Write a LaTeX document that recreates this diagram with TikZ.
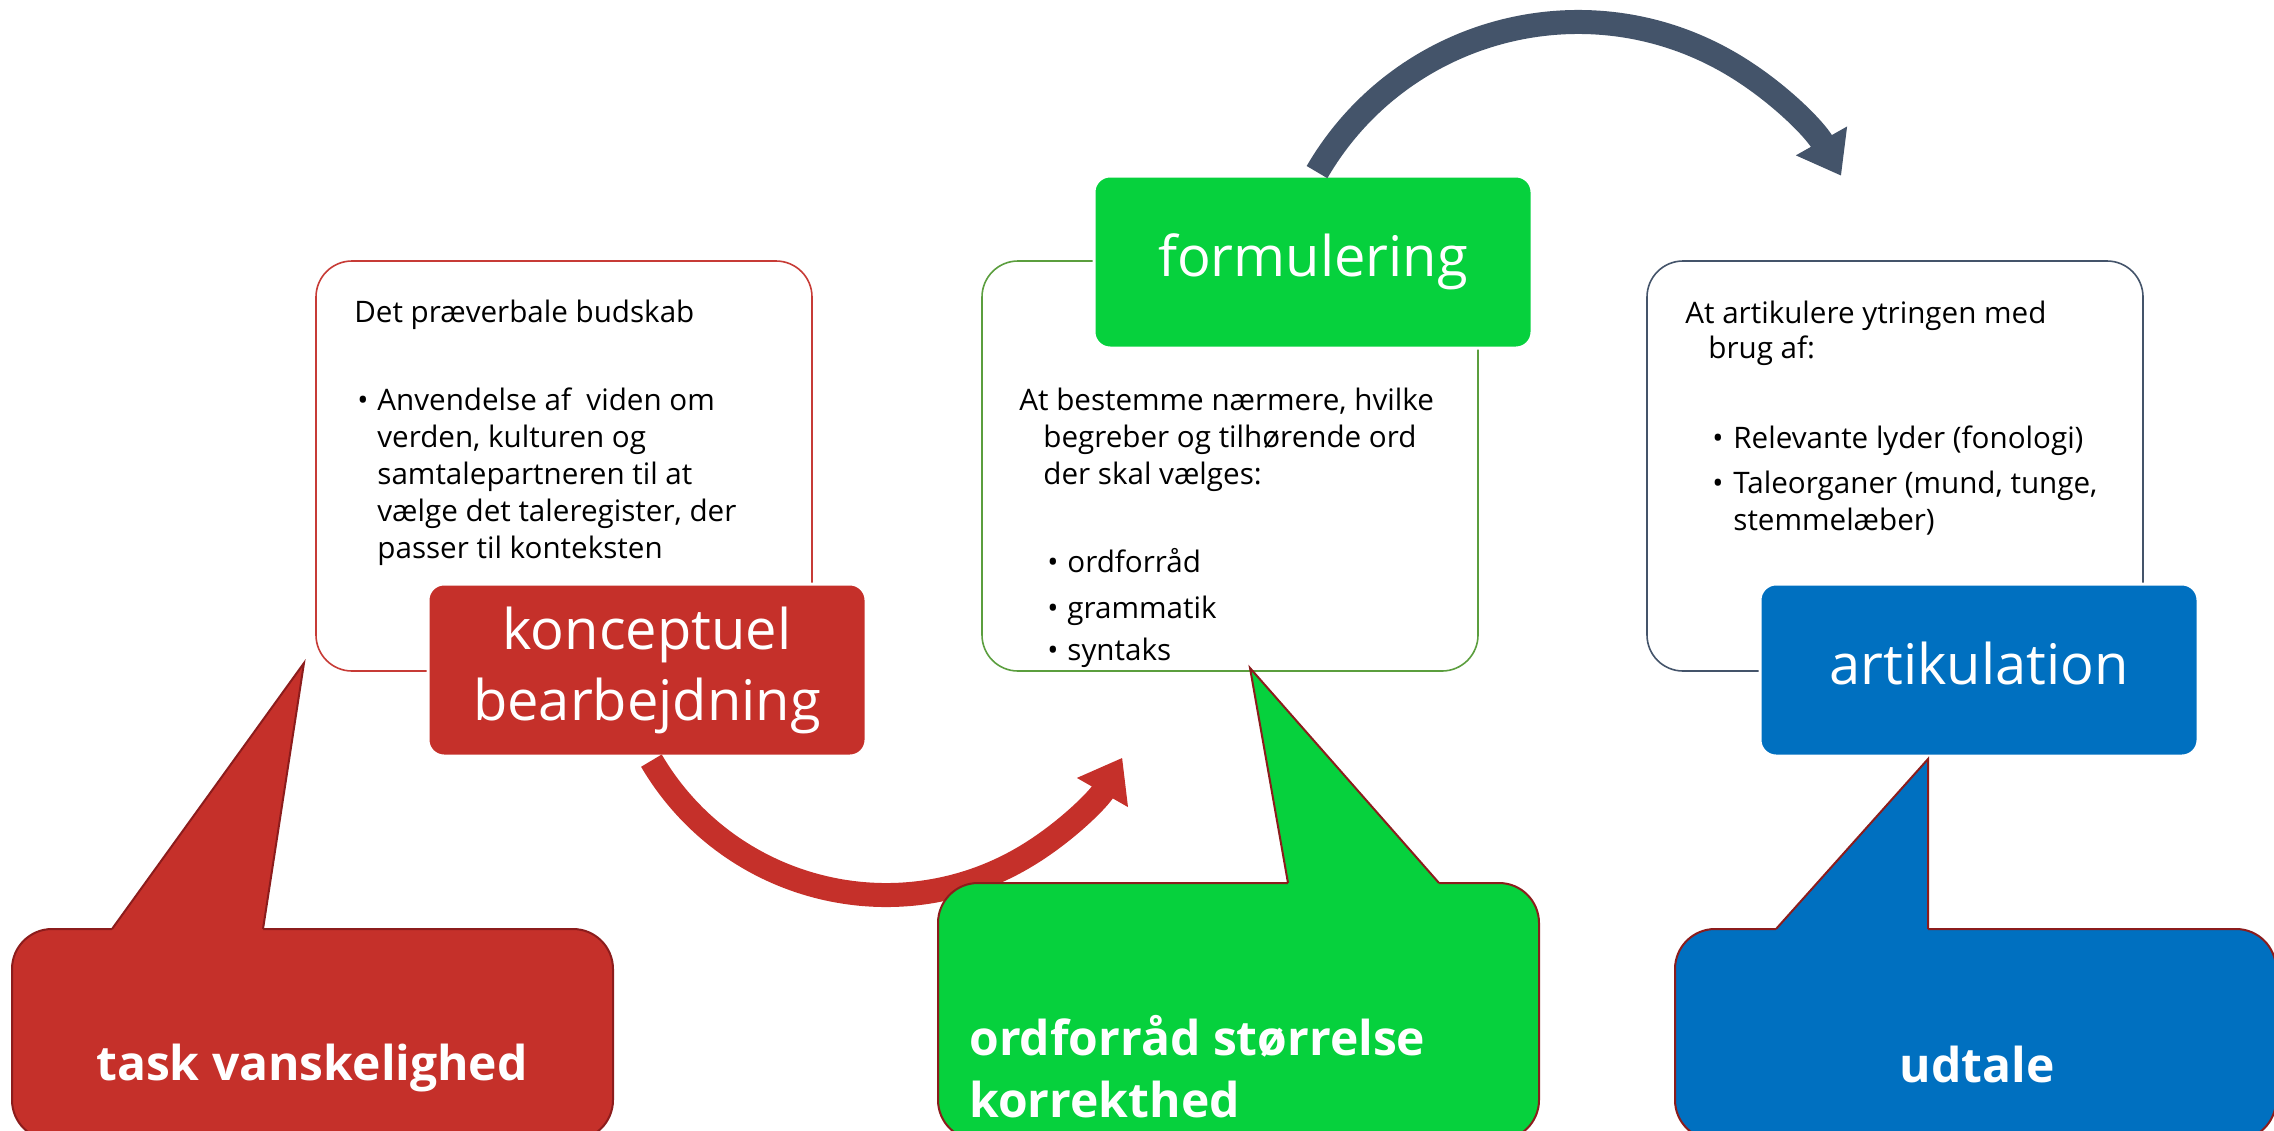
\documentclass[tikz,border=0pt]{standalone}
\usepackage{fontspec}
\setmainfont{Open Sans}
\usetikzlibrary{arrows.meta}

\definecolor{cred}{HTML}{C5302A}
\definecolor{cgreen}{HTML}{06D13D}
\definecolor{cblue}{HTML}{0070C0}
\definecolor{cslate}{HTML}{44546A}
\definecolor{lred}{HTML}{C73B36}
\definecolor{lgreen}{HTML}{5B9E3E}
\definecolor{cedge}{HTML}{8C1C1C}

\newcommand{\lines}[1]{\begin{tabular}[t]{@{}l@{}}#1\end{tabular}}

\tikzset{
  panel/.style={draw, line width=0.8pt, rounded corners=18pt, minimum width=248pt, minimum height=205pt},
  stage/.style={draw=white, line width=1.5pt, rounded corners=8pt, minimum width=219pt, minimum height=86pt,
    inner sep=0pt, align=center, text=white, font=\fontsize{28}{35.5}\selectfont},
  txt/.style={anchor=base west, inner sep=0pt, font=\fontsize{14.8}{18.5}\selectfont},
  bigarrow/.style={line width=12pt, -{Triangle[length=20pt,width=28pt]}},
  bubble/.style={draw=cedge, line width=1pt, rounded corners=20pt},
  edge/.style={draw=cedge, line width=1pt, line join=miter},
  calltext/.style={inner sep=0pt, text=white, font=\fontsize{24}{31}\selectfont\bfseries}
}

\begin{document}
\begin{tikzpicture}[x=0.5pt,y=-0.5pt]
\useasboundingbox (0,0) rectangle (2274,1130);
\clip (0,0) rectangle (2274,1130);
\fill[white] (0,0) rectangle (2274,1130);

% panels
\node[panel, draw=lred] (pk) at (564,466) {};
\node[panel, draw=lgreen] (pf) at (1230,466) {};
\node[panel, draw=cslate] (pa) at (1895,466) {};

% panel texts
\node[txt] (k0) at (354,322) {Det præverbale budskab};
\node[txt] (k1b) at (357,410) {•};
\node[txt] (k1) at (377,410) {\lines{Anvendelse af\ \ viden om\\verden, kulturen og\\samtalepartneren til at\\vælge det taleregister, der\\passer til konteksten}};

\node[txt] (f0) at (1019,410) {At bestemme nærmere, hvilke};
\node[txt] (f1) at (1043,447) {\lines{begreber og tilhørende ord\\der skal vælges:}};
\foreach \w/\y [count=\i] in {ordforråd/572, grammatik/618, syntaks/660} {
  \node[txt] (fb\i) at (1047,\y) {•};
  \node[txt] (fw\i) at (1067,\y) {\w};
}

\node[txt] (a0) at (1685,323) {At artikulere ytringen med};
\node[txt] (a1) at (1708,358) {brug af:};
\node[txt] (a2b) at (1712,448) {•};
\node[txt] (a2) at (1733,448) {Relevante lyder (fonologi)};
\node[txt] (a3b) at (1712,493) {•};
\node[txt] (a3) at (1733,493) {\lines{Taleorganer (mund, tunge,\\stemmelæber)}};

% stages
\node[stage, fill=cred] (kon) at (647,670) {konceptuel\\bearbejdning};
\node[stage, fill=cgreen, text height=21pt, text depth=7pt] (for) at (1313,262) {formulering};
\node[stage, fill=cblue, text height=21pt, text depth=7pt] (art) at (1979,670) {artikulation};

% arrows
\coordinate (rc) at (886,623);
\coordinate (sc) at (1578,324);
\draw[bigarrow, cred] ([shift={(149.6:272)}]rc) arc[start angle=149.6, end angle=29.7, radius=272];
\draw[bigarrow, cslate] ([shift={(210.2:302)}]sc) arc[start angle=210.2, end angle=330.6, radius=302];

% callouts
\coordinate (tk) at (304,663);
\draw[bubble, fill=cred] (12,929) rectangle (613,1140);
\fill[cred] (112,929) -- (tk) -- (263,929) -- (263,934) -- (112,934) -- cycle;
\draw[edge] (112,929) -- (tk) -- (263,929);
\node[calltext, anchor=base] (tv) at (312,1080) {task vanskelighed};

\coordinate (tf) at (1250,668);
\draw[bubble, fill=cgreen] (938,883) rectangle (1539,1140);
\fill[cgreen] (1288,883) -- (tf) -- (1439,883) -- (1439,888) -- (1288,888) -- cycle;
\draw[edge] (1288,883) -- (tf) -- (1439,883);
\node[calltext, anchor=base west] (ok) at (969,1055) {\lines{ordforråd størrelse\\korrekthed}};

\coordinate (ta) at (1928,759);
\draw[bubble, fill=cblue] (1675,929) rectangle (2276,1140);
\fill[cblue] (1776,929) -- (ta) -- (1928,929) -- (1928,934) -- (1776,934) -- cycle;
\draw[edge] (1776,929) -- (ta) -- (1928,929);
\node[calltext, anchor=base] (ud) at (1977,1082) {udtale};
\end{tikzpicture}
\end{document}
